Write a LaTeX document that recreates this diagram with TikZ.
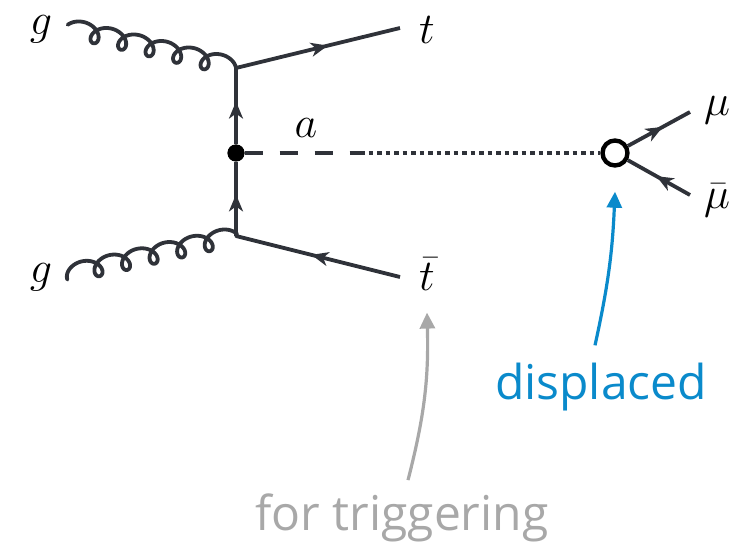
\documentclass[tikz,border=0pt]{standalone}
\usepackage{fontspec}
\usepackage{graphicx}
\newfontfamily\osans{Open Sans}
\newcommand\mylbl[1]{\scalebox{1.77}{\Huge$#1$}}
\usetikzlibrary{decorations.markings,arrows.meta}
\definecolor{ink}{HTML}{2F3239}
\definecolor{annblue}{HTML}{0A8ACB}
\definecolor{anngray}{HTML}{A8A8A8}
\tikzset{
  line/.style={ink,line width=3.8pt},
  fermion/.style={line,postaction={decorate},decoration={markings,mark=at position 0.56 with {\arrow{Stealth[length=17pt,width=14pt,inset=5pt]}}}},
  antifermion/.style={line,postaction={decorate},decoration={markings,mark=at position 0.46 with {\arrowreversed{Stealth[length=17pt,width=14pt,inset=5pt]}}}},
  gluon/.style={ink,line width=3.8pt,line cap=round,line join=round},
  mathlbl/.style={inner sep=0pt},
  dot/.style={circle,fill=black,inner sep=0pt,minimum size=17pt},
  vtx/.style={circle,draw=black,fill=white,line width=4.4pt,inner sep=0pt,minimum size=25pt},
  ann/.style={line width=3.2pt,-{Triangle[length=16pt,width=15pt]}},
  anntext/.style={font=\osans\fontsize{48}{54}\selectfont,inner sep=0pt,anchor=base}
}
\begin{document}
\begin{tikzpicture}[x=1pt,y=-1pt]
\useasboundingbox (0,0) rectangle (748,548);
% vertices
\coordinate (v1) at (236,68);
\coordinate (v2) at (236,236);
\node[dot] (v) at (236,153) {};
\node[vtx] (dv) at (615,153) {};
% fermion end points
\coordinate (te) at (400,28);
\coordinate (tbe) at (400,277);
\coordinate (mue) at (690,112);
\coordinate (mube) at (690,195);
\coordinate (dm) at (360,153);
% labels
\node[mathlbl] (gl1) at (41,29) {\mylbl{g}};
\node[mathlbl] (gl2) at (41,277) {\mylbl{g}};
\node[mathlbl] (tl) at (427,30) {\mylbl{t}};
\node[mathlbl] (tbl) at (427,274) {\mylbl{\bar t}};
\node[mathlbl] (al) at (306,128) {\mylbl{a}};
\node[mathlbl] (mul) at (717,110) {\mylbl{\mu}};
\node[mathlbl] (mubl) at (717,200) {\mylbl{\bar\mu}};
\node[anntext,annblue] (disp) at (601,400) {displaced};
\node[anntext,anngray] (trig) at (402,530) {for triggering};
% gluons
\begin{scope}[shift={(68,27.8)},rotate=-13.3]
  \draw[gluon] plot[domain=1.885:36.128,samples=600,variable=\t] ({4.5*\t-10*sin(\t r)},{9.2*cos(\t r)});
\end{scope}
\begin{scope}[shift={(70,273.5)},rotate=12.8]
  \draw[gluon] plot[domain=0.942:35.97,samples=600,variable=\t] ({4.5*\t-10*sin(\t r)},{9.2*cos(\t r)}) -- (v2);
\end{scope}
% fermion lines
\draw[fermion] (v2) -- (v);
\draw[fermion] (v) -- (v1);
\draw[fermion] (v1) -- (te);
\draw[antifermion] (v2) -- (tbe);
% scalar a
\draw[ink,line width=3.8pt,dash pattern=on 18pt off 17pt] (v) -- (dm);
\draw[ink,line width=3.8pt,dash pattern=on 4.5pt off 4pt] (dm) -- (dv);
\node[dot] at (v) {};
% muons
\draw[fermion] (dv) -- (mue);
\draw[antifermion] (dv) -- (mube);
% annotations
\draw[ann,annblue] ([xshift=-6pt,yshift=18pt]disp.north) to[bend right=5] ([yshift=-24pt]dv.south);
\draw[ann,anngray] ([xshift=6pt,yshift=13pt]trig.north) to[bend right=8] ([yshift=-22pt]tbl.south);
\end{tikzpicture}
\end{document}
